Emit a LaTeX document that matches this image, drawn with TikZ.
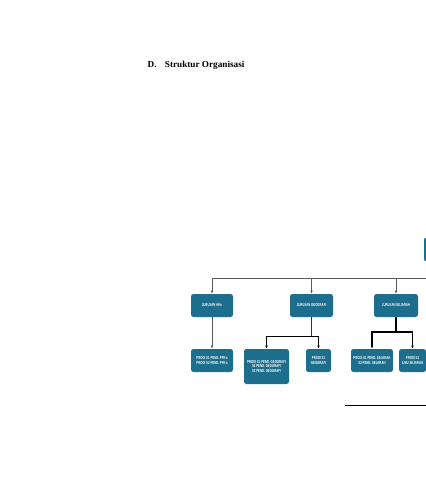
\documentclass[tikz,border=0pt]{standalone}
\usepackage{fontspec}
\setmainfont{Liberation Serif}
\newfontfamily\boxfont[FakeStretch=0.66]{Liberation Sans}
\usetikzlibrary{arrows.meta}
\definecolor{boxteal}{RGB}{28,110,140}
\tikzset{
  orgbox/.style={fill=boxteal, rounded corners=2.5pt, text=white,
    font=\boxfont\bfseries\fontsize{4.3}{4.8}\selectfont, align=center, inner sep=0pt},
  grayarrow/.style={draw=black!65, line width=0.7pt, -{Latex[length=3.2pt,width=2.6pt]}},
  darkarrow/.style={draw=black, line width=0.9pt, -{Latex[length=3.2pt,width=2.6pt]}},
  heavyarrow/.style={draw=black, line width=1.2pt, -{Latex[length=3.2pt,width=2.6pt]}},
}
\begin{document}
\begin{tikzpicture}[x=1pt,y=-1pt]
\useasboundingbox (0,0) rectangle (426,480);
\clip (0,0) rectangle (426,480);
\fill[white] (0,0) rectangle (426,480);

\node[anchor=base west, font=\bfseries\fontsize{9.2}{11}\selectfont, inner sep=0pt] (title) at (147.5,67.3) {D.\hspace{0.9em}Struktur Organisasi};

% top node (mostly off the page)
\node[orgbox, minimum width=72pt, minimum height=24pt] (top) at (460,249.5) {};
\coordinate (j) at (460,278);

% level 1
\node[orgbox, minimum width=42pt, minimum height=23pt] (hkn) at (212,305.5) {JURUSAN HKn};
\node[orgbox, minimum width=43pt, minimum height=23pt] (geo) at (311.5,305.5) {JURUSAN GEOGRAFI};
\node[orgbox, minimum width=44pt, minimum height=23pt] (sej) at (396,305.5) {JURUSAN SEJARAH};

% level 2
\node[orgbox, minimum width=42pt, minimum height=23pt] (ppkn) at (212,360.5) {PRODI S1 PEND. PPKn\\PRODI S2 PEND. PPKn};
\node[orgbox, minimum width=45pt, minimum height=35pt] (pgeo) at (266.5,366.5) {PRODI S1 PEND. GEOGRAFI\\S2 PEND. GEOGRAFI\\S3 PEND. GEOGRAFI};
\node[orgbox, minimum width=25pt, minimum height=23pt] (igeo) at (318.5,360.5) {PRODI S1\\GEOGRAFI};
\node[orgbox, minimum width=42pt, minimum height=23pt] (psej) at (372,360.5) {PRODI S1 PEND. SEJARAH\\S2 PEND. SEJARAH};
\node[orgbox, minimum width=27pt, minimum height=23pt] (isej) at (412.5,360.5) {PRODI S1\\ILMU SEJARAH};

% connectors
\draw[draw=black!65, line width=0.7pt] (top.south) -- (j);
\draw[grayarrow] (j) -| (hkn.north);
\draw[grayarrow] (j) -| (geo.north);
\draw[grayarrow] (j) -| (sej.north);

\draw[grayarrow] (hkn.south) -- (ppkn.north);

\coordinate (gj) at (311.5,336);
\draw[draw=black!80, line width=0.9pt] (geo.south) -- (gj);
\draw[darkarrow] (gj) -| (pgeo.north);
\draw[darkarrow] (gj) -| (igeo.north);

\coordinate (sjj) at (396,332);
\draw[draw=black, line width=1.2pt] (sej.south) -- (sjj);
\draw[heavyarrow] (sjj) -| (psej.north);
\draw[heavyarrow] (sjj) -| (isej.north);

% footnote rule
\coordinate (fa) at (345,405);
\coordinate (fb) at (430,405);
\draw[line width=0.5pt] (fa) -- (fb);
\end{tikzpicture}
\end{document}
